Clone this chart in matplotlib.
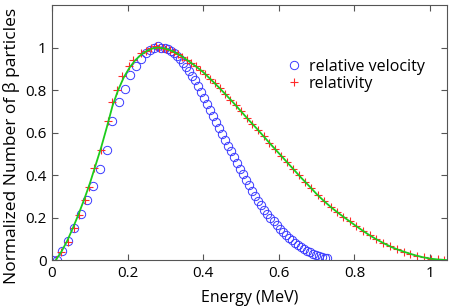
import matplotlib
matplotlib.use("Agg")
import matplotlib.pyplot as plt

plt.rcParams['font.family'] = ['Open Sans', 'DejaVu Sans']

# relative velocity (non-relativistic) spectrum, open circles
vel_E = [0.000, 0.012, 0.026, 0.042, 0.058, 0.076, 0.093, 0.109, 0.126, 0.145,
         0.160, 0.176, 0.192, 0.206, 0.221, 0.235, 0.248, 0.260, 0.271, 0.280,
         0.289, 0.298, 0.306, 0.314, 0.322, 0.330, 0.338, 0.346, 0.354, 0.362,
         0.370, 0.378, 0.386, 0.394, 0.402, 0.410, 0.418, 0.426, 0.434, 0.442,
         0.450, 0.458, 0.466, 0.474, 0.482, 0.490, 0.498, 0.506, 0.514, 0.522,
         0.530, 0.538, 0.546, 0.554, 0.562, 0.570, 0.578, 0.586, 0.594, 0.602,
         0.610, 0.618, 0.626, 0.634, 0.642, 0.650, 0.658, 0.666, 0.674, 0.682,
         0.690, 0.698, 0.706, 0.714, 0.722, 0.728]
vel_N = [0.000, 0.002, 0.042, 0.088, 0.150, 0.217, 0.283, 0.350, 0.430, 0.520,
         0.655, 0.745, 0.805, 0.870, 0.915, 0.948, 0.972, 0.990, 1.000, 1.005,
         1.000, 0.996, 0.991, 0.984, 0.975, 0.962, 0.947, 0.929, 0.910, 0.890,
         0.868, 0.846, 0.819, 0.791, 0.763, 0.735, 0.707, 0.679, 0.651, 0.623,
         0.595, 0.567, 0.539, 0.511, 0.483, 0.455, 0.429, 0.403, 0.377, 0.352,
         0.327, 0.303, 0.280, 0.259, 0.238, 0.218, 0.200, 0.182, 0.165, 0.148,
         0.133, 0.119, 0.105, 0.093, 0.081, 0.071, 0.061, 0.052, 0.044, 0.037,
         0.031, 0.025, 0.020, 0.016, 0.012, 0.009]

# relativistic spectrum, plus markers
rel_E = [0.010, 0.023, 0.041, 0.058, 0.072, 0.087, 0.098, 0.111, 0.129, 0.147,
         0.160, 0.173, 0.186, 0.204, 0.213, 0.235, 0.248, 0.261, 0.275, 0.284,
         0.293, 0.302, 0.312, 0.322, 0.333, 0.344, 0.356, 0.368, 0.380, 0.392,
         0.405, 0.418, 0.431, 0.444, 0.458, 0.472, 0.486, 0.500, 0.515, 0.530,
         0.545, 0.560, 0.575, 0.590, 0.606, 0.622, 0.638, 0.654, 0.670, 0.686,
         0.703, 0.720, 0.737, 0.754, 0.771, 0.788, 0.805, 0.822, 0.840, 0.858,
         0.876, 0.894, 0.912, 0.930, 0.948, 0.966, 0.984, 1.002, 1.020, 1.038]
rel_N = [0.000, 0.040, 0.087, 0.150, 0.212, 0.283, 0.346, 0.432, 0.519, 0.656,
         0.742, 0.800, 0.868, 0.915, 0.943, 0.972, 0.983, 0.998, 1.006, 0.999,
         0.997, 0.994, 0.987, 0.980, 0.969, 0.957, 0.943, 0.928, 0.912, 0.895,
         0.876, 0.853, 0.831, 0.808, 0.782, 0.755, 0.728, 0.700, 0.670, 0.641,
         0.612, 0.582, 0.552, 0.523, 0.491, 0.460, 0.429, 0.398, 0.368, 0.338,
         0.306, 0.277, 0.251, 0.226, 0.204, 0.182, 0.160, 0.139, 0.117, 0.098,
         0.081, 0.065, 0.052, 0.040, 0.030, 0.020, 0.013, 0.007, 0.003, 0.001]

# theory curve (green)
fit_E = [0.010, 0.025, 0.040, 0.055, 0.070, 0.085, 0.100, 0.115, 0.130, 0.145,
         0.160, 0.175, 0.190, 0.205, 0.220, 0.235, 0.250, 0.265, 0.280, 0.300,
         0.320, 0.340, 0.360, 0.380, 0.400, 0.420, 0.440, 0.460, 0.480, 0.500,
         0.520, 0.540, 0.560, 0.580, 0.600, 0.620, 0.640, 0.660, 0.680, 0.700,
         0.720, 0.740, 0.760, 0.780, 0.800, 0.820, 0.840, 0.860, 0.880, 0.900,
         0.920, 0.940, 0.960, 0.980, 1.000, 1.020, 1.045]
fit_N = [0.000, 0.040, 0.090, 0.150, 0.215, 0.285, 0.360, 0.445, 0.530, 0.625,
         0.725, 0.800, 0.860, 0.905, 0.940, 0.965, 0.983, 0.995, 1.000, 0.995,
         0.982, 0.962, 0.938, 0.912, 0.884, 0.850, 0.815, 0.778, 0.740, 0.700,
         0.660, 0.622, 0.582, 0.542, 0.503, 0.464, 0.425, 0.386, 0.349, 0.311,
         0.277, 0.246, 0.218, 0.192, 0.166, 0.141, 0.117, 0.096, 0.077, 0.060,
         0.046, 0.034, 0.023, 0.014, 0.007, 0.003, 0.000]

fig = plt.figure(figsize=(4.5, 3.06), dpi=100)
ax = fig.add_axes([0.1156, 0.150, 0.8777, 0.8337])

ax.plot(vel_E, vel_N, 'o', mfc='none', mec='#3a3aff', ms=6, mew=0.7,
        label='relative velocity')
ax.plot(rel_E, rel_N, '+', color='#ff2a2a', ms=6, mew=0.8, label='relativity')
ax.plot(fit_E, fit_N, '-', color='#1ccc1c', lw=1.3)

ax.set_xlim(0, 1.045)
ax.set_ylim(0, 1.2)
ax.set_xticks([0, 0.2, 0.4, 0.6, 0.8, 1])
ax.set_xticklabels(['0', '0.2', '0.4', '0.6', '0.8', '1'])
ax.set_yticks([0, 0.2, 0.4, 0.6, 0.8, 1])
ax.set_yticklabels(['0', '0.2', '0.4', '0.6', '0.8', '1'])
ax.tick_params(direction='in', top=True, right=True, length=4, width=0.8,
               color='#555555', labelsize=11, pad=4)
for s in ax.spines.values():
    s.set_color('#555555')
    s.set_linewidth(0.8)

ax.set_xlabel('Energy (MeV)', fontsize=11.5, labelpad=7)
ax.set_ylabel('Normalized Number of β particles', fontsize=12.5)
ax.yaxis.set_label_coords(-0.08, 0.447)

ax.legend(loc='upper left', bbox_to_anchor=(0.577, 0.814), frameon=False,
          fontsize=11.5, handlelength=1.0, handletextpad=0.4, labelspacing=0.05,
          borderaxespad=0)

fig.savefig('out.png', dpi=100)
